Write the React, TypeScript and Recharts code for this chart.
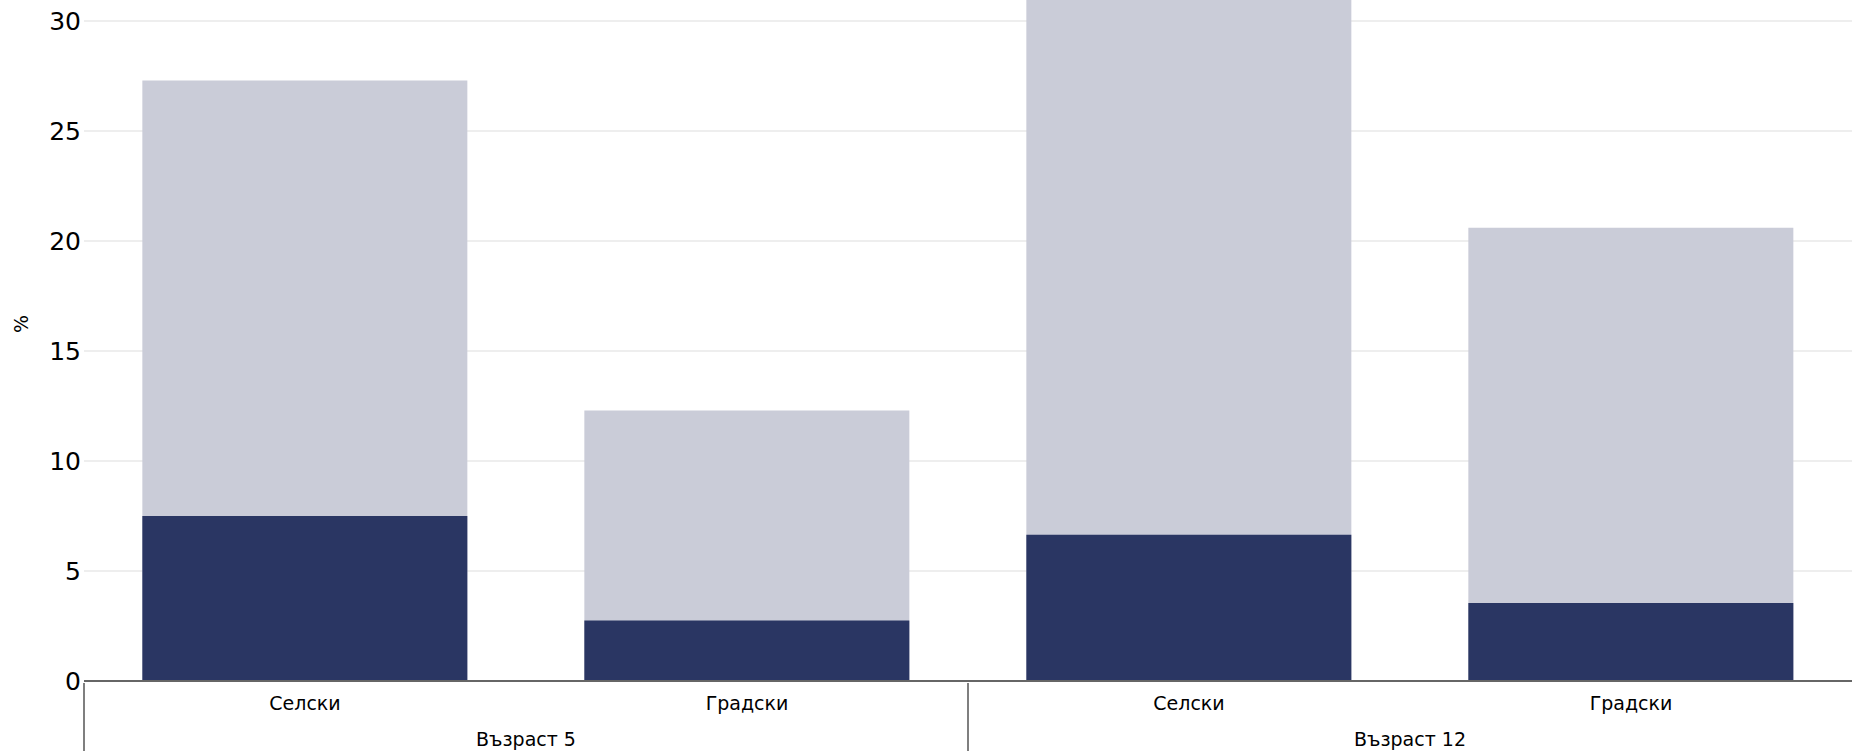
import React from 'react';
import { ComposedChart, Bar, XAxis, YAxis, CartesianGrid } from 'recharts';

const categories = ['Селски', 'Градски', 'Селски', 'Градски'];
const groups = ['Възраст 5', 'Възраст 5', 'Възраст 12', 'Възраст 12'];
const lightValues = [27.3, 12.3, 32, 20.6];
const darkValues = [7.5, 2.75, 6.65, 3.55];
const yTicks = [0, 5, 10, 15, 20, 25, 30];

const data = categories.map((c, i) => ({
  cat: c,
  group: groups[i],
  light: lightValues[i],
  dark: darkValues[i],
}));

const W = 1852;
const H = 751;
const Y_W = 84;
const CAT_H = 35;
const GROUP_H = 35;
const TOP = -33;
const HALF_BAND = (W - Y_W) / categories.length / 2;
const PLOT_BOTTOM = H - CAT_H - GROUP_H;
const FONT = 'DejaVu Sans, Verdana, sans-serif';

const GroupTick = (props: any) => {
  const { x, y, index } = props;
  const els: any[] = [];
  if (index % 2 === 0) {
    els.push(
      <text key="t" x={x + HALF_BAND} y={y} dy="0.71em" textAnchor="middle" fontSize={19} fill="#000" fontFamily={FONT}>
        {groups[index]}
      </text>
    );
    els.push(
      <line key="l" x1={x - HALF_BAND} x2={x - HALF_BAND} y1={PLOT_BOTTOM + 2} y2={H} stroke="#555" strokeWidth={1.5} />
    );
  }
  return <g>{els}</g>;
};

const YLabel = (p: any) => {
  const vb = p.viewBox || { x: 0, y: TOP, width: Y_W, height: PLOT_BOTTOM - TOP };
  const cx = 21;
  const cy = vb.y + vb.height / 2;
  return (
    <text
      x={cx}
      y={cy}
      transform={`rotate(-90, ${cx}, ${cy})`}
      textAnchor="middle"
      dominantBaseline="central"
      fontSize={19}
      fill="#000"
      fontFamily={FONT}
    >
      %
    </text>
  );
};

export default function App() {
  return (
    <div style={{ position: 'absolute', left: 0, top: 0, width: W, height: H, fontFamily: FONT }}>
      <ComposedChart
        width={W}
        height={H}
        data={data}
        margin={{ top: TOP, right: 0, bottom: 0, left: 0 }}
        barCategoryGap="13.2%"
        style={{ fontFamily: FONT }}
      >
        <CartesianGrid vertical={false} stroke="#EEEEEE" strokeWidth={2} />
        <XAxis
          xAxisId="cat"
          dataKey="cat"
          height={CAT_H}
          tickSize={0}
          tickMargin={16}
          tickLine={false}
          interval={0}
          axisLine={{ stroke: '#666', strokeWidth: 2 }}
          tick={{ fontSize: 19, fill: '#000', fontFamily: FONT }}
        />
        <XAxis
          xAxisId="group"
          dataKey="group"
          height={GROUP_H}
          tickSize={0}
          tickMargin={16.5}
          tickLine={false}
          axisLine={false}
          interval={0}
          tick={(p: any) => <GroupTick {...p} />}
        />
        <XAxis xAxisId="over" dataKey="cat" hide />
        <YAxis
          type="number"
          domain={[0, (PLOT_BOTTOM - TOP) / 22]}
          allowDataOverflow
          ticks={yTicks}
          width={Y_W}
          tickSize={0}
          tickMargin={3}
          tickLine={false}
          axisLine={false}
          tick={{ fontSize: 25, fill: '#000', fontFamily: FONT }}
          label={{ content: (p: any) => <YLabel {...p} /> }}
        />
        <Bar xAxisId="cat" dataKey="light" fill="#CACCD8" isAnimationActive={false} />
        <Bar xAxisId="over" dataKey="dark" fill="#2A3663" isAnimationActive={false} />
      </ComposedChart>
    </div>
  );
}
